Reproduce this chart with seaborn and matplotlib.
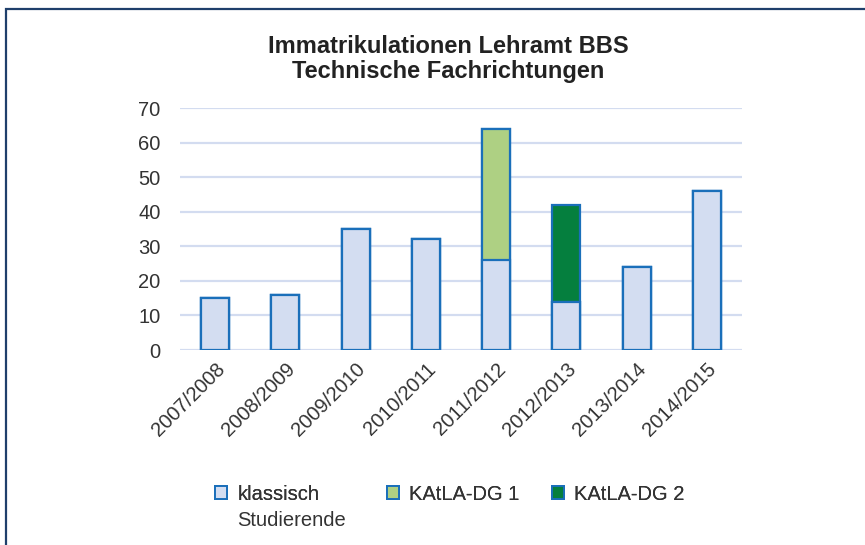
import matplotlib
matplotlib.use("Agg")
import matplotlib.pyplot as plt
import seaborn as sns
from matplotlib.patches import Patch, Rectangle

years = ["2007/2008", "2008/2009", "2009/2010", "2010/2011",
         "2011/2012", "2012/2013", "2013/2014", "2014/2015"]
klassisch = [15, 16, 35, 32, 26, 14, 24, 46]
dg1 = [0, 0, 0, 0, 38, 0, 0, 0]
dg2 = [0, 0, 0, 0, 0, 28, 0, 0]
labels = ["klassisch\nStudierende", "KAtLA-DG 1", "KAtLA-DG 2"]

c_klass = "#D3DDF1"
c_dg1 = "#AED083"
c_dg2 = "#057F3E"
edge = "#1A6FBA"
grid = "#D3DCF0"
text_c = "#333333"

sns.set_theme(style="white")
plt.rcParams["font.family"] = ["Liberation Sans", "DejaVu Sans"]

W, H = 865, 545
fig = plt.figure(figsize=(W / 100, H / 100), dpi=100)
ax = fig.add_axes([180 / W, 1 - 350 / H, 562 / W, 242 / H])

# stacked bars: draw cumulative totals from top layer down
top2 = [k + a + b for k, a, b in zip(klassisch, dg1, dg2)]
top1 = [k + a for k, a in zip(klassisch, dg1)]
for vals, col in [(top2, c_dg2), (top1, c_dg1), (klassisch, c_klass)]:
    sns.barplot(x=years, y=vals, color=col, saturation=1, width=0.4,
                edgecolor=edge, linewidth=1.6, ax=ax, zorder=3)

ax.set_ylim(0, 70)
ax.set_xlim(-0.5, 7.5)
ax.set_yticks(range(0, 71, 10))
ax.yaxis.grid(True, color=grid, linewidth=1.6, zorder=0)
ax.set_axisbelow(True)
for s in ax.spines.values():
    s.set_visible(False)
ax.tick_params(axis="both", length=0, labelsize=14.5, colors=text_c)
ax.tick_params(axis="x", pad=7)
ax.tick_params(axis="y", pad=14)
plt.setp(ax.get_xticklabels(), rotation=45, ha="right", rotation_mode="anchor")
ax.set_xlabel("")
ax.set_ylabel("")

fig.text(448 / W, 1 - 59 / H, "Immatrikulationen Lehramt BBS\nTechnische Fachrichtungen",
         ha="center", va="center", fontsize=17, fontweight="bold",
         color="#222222", linespacing=1.1)

# legend: one entry per column, placed like the original
colors = [c_klass, c_dg1, c_dg2]
x_handles = [215, 387, 552]
fs = 14.5
for lab, col, xh in zip(labels, colors, x_handles):
    first = lab.split("\n")[0]
    leg = fig.legend([Patch(facecolor=col, edgecolor=edge, linewidth=1.4)], [first],
                     frameon=False, fontsize=fs, loc="center left",
                     bbox_to_anchor=(xh / W, 1 - 494 / H),
                     borderpad=0, borderaxespad=0,
                     handlelength=0.6, handleheight=0.6, handletextpad=0.5,
                     labelcolor=text_c)
    fig.add_artist(leg)
    for extra_i, extra in enumerate(lab.split("\n")[1:]):
        fig.text((xh + 22) / W, 1 - (520 + 27 * extra_i) / H, extra,
                 ha="left", va="center", fontsize=fs, color=text_c)

fig.add_artist(Rectangle((6 / W, -0.05), 1.1, 1 - 9 / H + 0.05,
                         transform=fig.transFigure, fill=False,
                         edgecolor="#1F3F6B", linewidth=1.6))

fig.savefig("out.png", dpi=100)
